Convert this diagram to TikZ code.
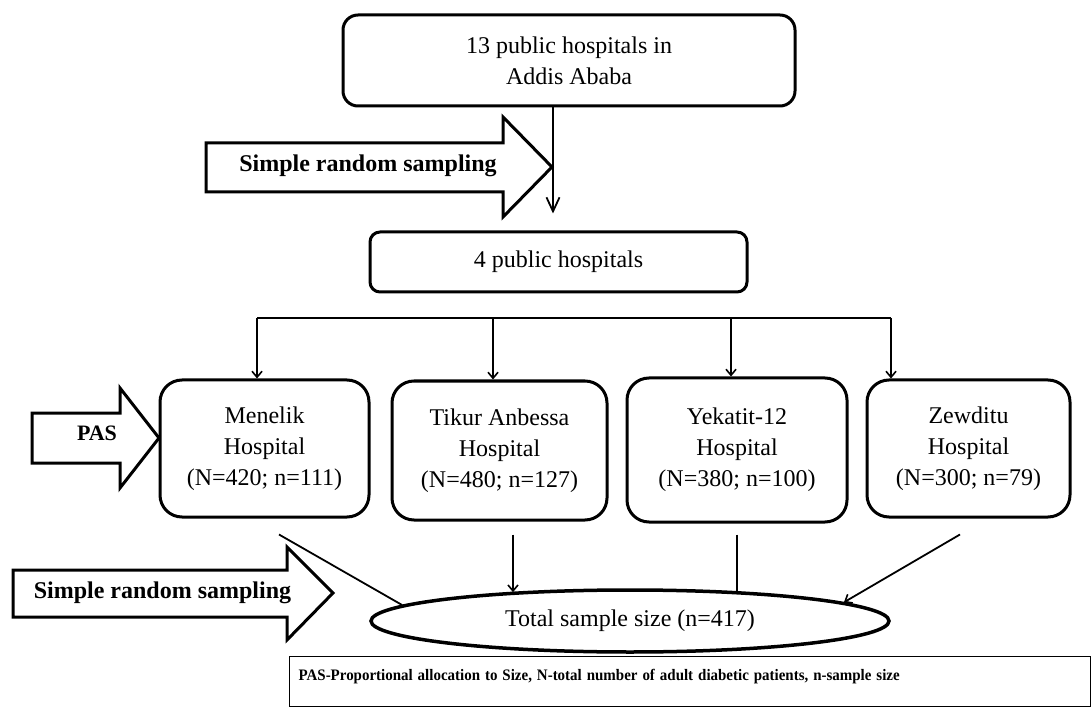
\documentclass[tikz,border=0pt]{standalone}
\usepackage{fontspec}
\setmainfont{Liberation Serif}
\usepackage{graphicx}
\usepackage{tikz}
\usetikzlibrary{arrows.meta,shapes.geometric}

\begin{document}
\begin{tikzpicture}[
  x=1pt,y=-1pt,
  font=\fontsize{24}{31}\selectfont,
  box/.style={draw,line width=3pt,fill=white,align=center,inner sep=4pt},
  hosp/.style={box,rounded corners=22pt,minimum height=137,minimum width=209},
  barrow/.style={draw,line width=3pt,fill=white,line join=miter},
  lbl/.style={font=\fontsize{24}{28}\selectfont\bfseries,anchor=base,inner sep=0pt},
  ln/.style={draw,line width=1.8pt},
  fl/.style={-{Straight Barb[length=14pt,width=13pt,line width=1.8pt]},line width=1.8pt},
  fls/.style={-{Straight Barb[length=6pt,width=10pt,line width=1.6pt]},line width=1.8pt},
  note/.style={draw,line width=1.2pt,anchor=north west,align=left,inner xsep=9pt,inner ysep=13pt,
    text width=783pt,text height=11pt,text depth=13pt,font=\fontsize{16}{18}\selectfont\bfseries},
]
\useasboundingbox (0,0) rectangle (1092,708);

\node[box,rounded corners=15pt,minimum width=452,minimum height=91] (city) at (569,60.5) {13 public hospitals in\\Addis Ababa};
\node[box,rounded corners=10pt,minimum width=377,minimum height=60] (four) at (558.5,262) {4 public hospitals};

\node[hosp] (menelik) at (264.5,448.5) {Menelik\\Hospital\\(N=420; n=111)};
\node[hosp,minimum width=215,minimum height=139] (tikur) at (499.5,450.5) {Tikur Anbessa\\Hospital\\(N=480; n=127)};
\node[hosp,minimum width=220,minimum height=144] (yekatit) at (737,450) {Yekatit-12\\Hospital\\(N=380; n=100)};
\node[hosp,minimum width=203] (zewditu) at (968.5,448.5) {Zewditu\\Hospital\\(N=300; n=79)};

\node[ellipse,draw,line width=3.5pt,fill=white,minimum width=518,minimum height=62,inner sep=0pt] (total) at (630,621) {Total sample size (n=417)};

\draw[barrow] (206,143) -- (503,143) -- (503,117) -- (552,167) -- (503,217) -- (503,192) -- (206,192) -- cycle;
\node[lbl] (srs1) at (368,172) {Simple random sampling};
\draw[barrow] (32,413) -- (120,413) -- (120,388) -- (159,438) -- (120,488) -- (120,463) -- (32,463) -- cycle;
\node[lbl,font=\fontsize{22}{26}\selectfont\bfseries] (pas) at (97,440) {PAS};
\draw[barrow] (13,570) -- (287,570) -- (287,547) -- (333,593) -- (287,640) -- (287,617) -- (13,617) -- cycle;
\node[lbl] (srs2) at (162.5,598) {Simple random sampling};

\draw[fl,shorten >=17pt] ([xshift=-16pt]city.south) -- ([xshift=-5.5pt]four.north);

\coordinate (bus) at (0,318);
\draw[ln] ([xshift=-7.5pt]menelik.north |- bus) -- ([xshift=-77.5pt]zewditu.north |- bus);
\draw[fls] ([xshift=-7.5pt]menelik.north |- bus) -- ([xshift=-7.5pt]menelik.north);
\draw[fls] ([xshift=-6.5pt]tikur.north |- bus) -- ([xshift=-6.5pt]tikur.north);
\draw[fls] ([xshift=-6pt]yekatit.north |- bus) -- ([xshift=-6pt]yekatit.north);
\draw[fls] ([xshift=-77.5pt]zewditu.north |- bus) -- ([xshift=-77.5pt]zewditu.north);

\draw[ln] ([xshift=14.5pt,yshift=-16pt]menelik.south) -- (total.176);
\draw[fls] ([xshift=13.5pt,yshift=-13pt]tikur.south) coordinate (t2) -- (t2 |- total.167);
\draw[ln] ([yshift=-11pt]yekatit.south) coordinate (t3) -- (t3 |- total.15);
\draw[fls] ([xshift=-8.5pt,yshift=-16pt]zewditu.south) -- (total.5);

\node[note] (key) at (289,656) {\scalebox{0.935}[1]{PAS-Proportional allocation to Size, N-total number of adult diabetic patients, n-sample size}};
\end{tikzpicture}
\end{document}
